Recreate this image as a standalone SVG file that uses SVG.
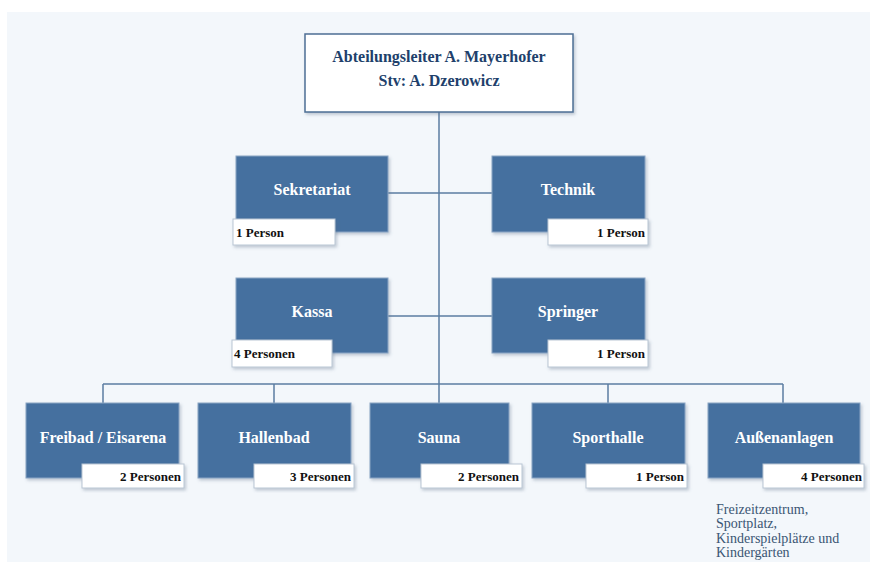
<svg xmlns="http://www.w3.org/2000/svg" width="870" height="562" viewBox="0 0 870 562">
<defs>
<filter id="sh" x="-10%" y="-10%" width="125%" height="130%">
<feDropShadow dx="1.5" dy="2" stdDeviation="1.5" flood-color="#5a6f88" flood-opacity="0.35"/>
</filter>
</defs>
<style>
.unit{fill:#44709f;stroke:#8aa5c4;stroke-width:1;filter:url(#sh)}
.head{fill:#ffffff;stroke:#4d6f95;stroke-width:1.5;filter:url(#sh)}
.lbl{fill:#ffffff;stroke:#b9c6d4;stroke-width:1;filter:url(#sh)}
.t{font-family:"Liberation Serif","Times New Roman",serif;font-weight:bold;font-size:16px;fill:#ffffff;text-anchor:middle}
.ht{font-family:"Liberation Serif","Times New Roman",serif;font-weight:bold;font-size:16px;fill:#213f6b;text-anchor:middle}
.p{font-family:"Liberation Serif","Times New Roman",serif;font-weight:bold;font-size:13px;fill:#111111}
.pr{text-anchor:end}
.note{font-family:"Liberation Serif","Times New Roman",serif;font-size:14px;fill:#3a5573}
.c{stroke:#5b7ca2;stroke-width:1.5;fill:none}
</style>
<rect x="7" y="12" width="863" height="550" fill="#f3f7fb"/>
<g id="connectors">
<line class="c" x1="439" y1="112" x2="439" y2="384"/>
<line class="c" x1="388" y1="193" x2="492" y2="193"/>
<line class="c" x1="388" y1="316" x2="492" y2="316"/>
<line class="c" x1="103" y1="384" x2="783" y2="384"/>
<line class="c" x1="103" y1="384" x2="103" y2="403"/>
<line class="c" x1="274" y1="384" x2="274" y2="403"/>
<line class="c" x1="439" y1="384" x2="439" y2="403"/>
<line class="c" x1="608" y1="384" x2="608" y2="403"/>
<line class="c" x1="783" y1="384" x2="783" y2="403"/>
</g>
<g id="leiter">
<rect class="head" x="305" y="34" width="268" height="78"/>
<text class="ht" x="439" y="62">Abteilungsleiter A. Mayerhofer</text>
<text class="ht" x="439" y="86">Stv: A. Dzerowicz</text>
</g>
<g id="sekretariat">
<rect class="unit" x="236" y="156" width="152" height="76"/>
<text class="t" x="312" y="195">Sekretariat</text>
<rect class="lbl" x="233" y="219" width="102" height="26"/>
<text class="p" x="236" y="237">1 Person</text>
</g>
<g id="technik">
<rect class="unit" x="492" y="156" width="153" height="76"/>
<text class="t" x="568" y="195">Technik</text>
<rect class="lbl" x="548" y="219" width="100" height="26"/>
<text class="p pr" x="645" y="237">1 Person</text>
</g>
<g id="kassa">
<rect class="unit" x="236" y="278" width="152" height="75"/>
<text class="t" x="312" y="317">Kassa</text>
<rect class="lbl" x="232" y="340" width="100" height="27"/>
<text class="p" x="234" y="358">4 Personen</text>
</g>
<g id="springer">
<rect class="unit" x="492" y="278" width="153" height="75"/>
<text class="t" x="568" y="317">Springer</text>
<rect class="lbl" x="548" y="340" width="100" height="27"/>
<text class="p pr" x="645" y="358">1 Person</text>
</g>
<g id="freibad">
<rect class="unit" x="26" y="403" width="153" height="75"/>
<text class="t" x="103" y="443">Freibad / Eisarena</text>
<rect class="lbl" x="82" y="464" width="102" height="24"/>
<text class="p pr" x="181" y="481">2 Personen</text>
</g>
<g id="hallenbad">
<rect class="unit" x="198" y="403" width="153" height="75"/>
<text class="t" x="274" y="443">Hallenbad</text>
<rect class="lbl" x="254" y="464" width="100" height="24"/>
<text class="p pr" x="351" y="481">3 Personen</text>
</g>
<g id="sauna">
<rect class="unit" x="370" y="403" width="139" height="75"/>
<text class="t" x="439" y="443">Sauna</text>
<rect class="lbl" x="421" y="464" width="101" height="24"/>
<text class="p pr" x="519" y="481">2 Personen</text>
</g>
<g id="sporthalle">
<rect class="unit" x="532" y="403" width="153" height="75"/>
<text class="t" x="608" y="443">Sporthalle</text>
<rect class="lbl" x="586" y="464" width="101" height="24"/>
<text class="p pr" x="684" y="481">1 Person</text>
</g>
<g id="aussenanlagen">
<rect class="unit" x="708" y="403" width="152" height="75"/>
<text class="t" x="784" y="443">Außenanlagen</text>
<rect class="lbl" x="763" y="464" width="101" height="24"/>
<text class="p pr" x="862" y="481">4 Personen</text>
<text class="note" x="716" y="514">Freizeitzentrum,</text>
<text class="note" x="716" y="528">Sportplatz,</text>
<text class="note" x="716" y="543">Kinderspielplätze und</text>
<text class="note" x="716" y="557">Kindergärten</text>
</g>
</svg>
